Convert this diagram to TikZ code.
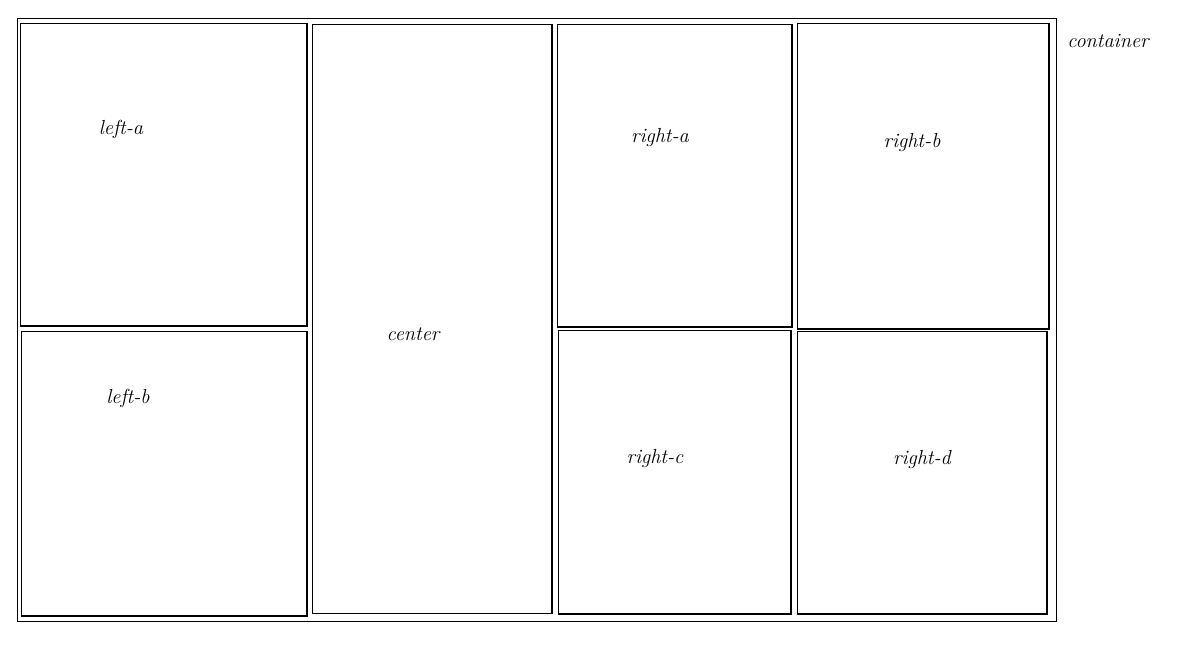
\documentclass[tikz,border=0pt]{standalone}
\usepackage{tikz}

\tikzset{
  region/.style={draw=black, line width=0.6pt, inner sep=0pt, outer sep=0pt},
  tag/.style={font=\fontsize{11.6}{13}\selectfont\itshape, inner sep=1pt},
}

\begin{document}
\begin{tikzpicture}[x=0.02cm, y=-0.02cm]
\useasboundingbox (0,0) rectangle (1196,650);
\node[region, minimum width=20.8cm, minimum height=12.08cm] (container) at (537,320) {};
\node[region, minimum width=5.74cm, minimum height=6.06cm] (lefta) at (163.5,174.5) {};
\node[region, minimum width=5.72cm, minimum height=5.70cm] (leftb) at (164,473.5) {};
\node[region, minimum width=4.80cm, minimum height=11.80cm] (center) at (432,319) {};
\node[region, minimum width=4.70cm, minimum height=6.06cm] (righta) at (674.5,175.5) {};
\node[region, minimum width=5.04cm, minimum height=6.12cm] (rightb) at (923,176) {};
\node[region, minimum width=4.66cm, minimum height=5.68cm] (rightc) at (674.5,472) {};
\node[region, minimum width=5.00cm, minimum height=5.66cm] (rightd) at (922,472.5) {};
% labels
\node[tag] (lefta label) at (121,129) {left-a};
\node[tag] (leftb label) at (128,398) {left-b};
\node[tag] (center label) at (413,334) {center};
\node[tag] (righta label) at (660,137) {right-a};
\node[tag] (rightb label) at (912,142) {right-b};
\node[tag] (rightc label) at (655,458) {right-c};
\node[tag] (rightd label) at (922,459) {right-d};
\node[tag] (container label) at (1108,41) {container};
\end{tikzpicture}
\end{document}
